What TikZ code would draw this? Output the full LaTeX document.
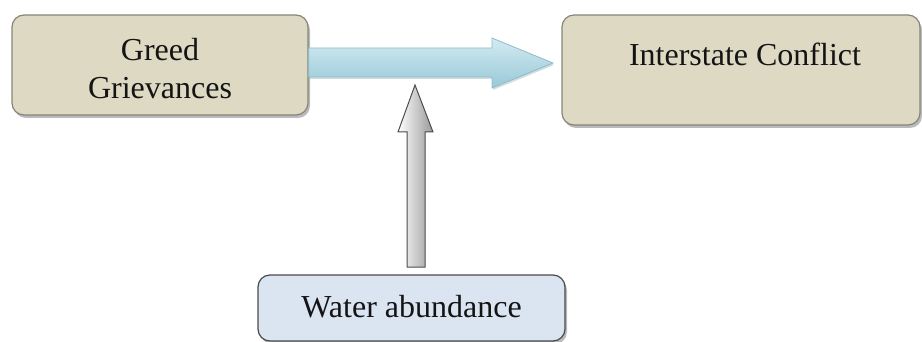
\documentclass[tikz,border=0pt]{standalone}
\usepackage{fontspec}
\setmainfont[Ligatures=NoCommon]{Liberation Serif}
\usetikzlibrary{shadows,calc}
\definecolor{tanfill}{HTML}{DDD9C3}
\definecolor{tanedge}{HTML}{85857A}
\definecolor{bluefill}{HTML}{DBE5F1}
\definecolor{blueedge}{HTML}{4A4A4A}
\definecolor{arrowtop}{HTML}{D3EAF2}
\definecolor{arrowmid}{HTML}{F0F8FB}
\definecolor{arrowbot}{HTML}{97C9D7}
\definecolor{arrowedge}{HTML}{8DBCCA}
\begin{document}
\begin{tikzpicture}[x=1pt,y=-1pt,
  boxbase/.style={line width=1.2pt, rounded corners=12pt, inner sep=0pt,
    drop shadow={shadow xshift=2pt, shadow yshift=-3pt, opacity=0.45, fill=black!60}},
  tanbox/.style={boxbase, draw=tanedge, fill=tanfill},
  bluebox/.style={boxbase, draw=blueedge, fill=bluefill},
  lbl/.style={font=\fontsize{32}{38}\selectfont, align=center, text=black!92, inner sep=0pt},
  harrow/.style={draw=arrowedge, line width=0.8pt, top color=arrowtop, middle color=arrowmid, bottom color=arrowbot,
    drop shadow={shadow xshift=1pt, shadow yshift=-2pt, opacity=0.3, fill=arrowbot!70!black}},
  varrow/.style={draw=black!70, line width=1pt, left color=white, right color=black!40}]
\useasboundingbox (0,0) rectangle (922,342);
% boxes
\node[tanbox, minimum width=296pt, minimum height=100pt] (gg) at (160,65) {};
\node[tanbox, minimum width=358pt, minimum height=110pt] (ic) at (741,70) {};
\node[bluebox, minimum width=307pt, minimum height=66pt] (wa) at (411.5,308) {};
% texts
\node[lbl] (ggt) at (gg.center |- 0,69) {Greed\\Grievances};
\node[lbl] (ict) at (745,54) {Interstate Conflict};
\node[lbl] (wat) at (wa.center |- 0,307) {Water abundance};
% horizontal block arrow
\coordinate (htip) at (553,63);
\path[harrow] (gg.east |- 0,48) -- (492,48) -- (492,38) -- (htip) -- (492,88) -- (492,77) -- (gg.east |- 0,77) -- cycle;
% vertical block arrow
\coordinate (vtip) at (415,85);
\path[varrow] (407,267) -- (407,132) -- (398,132) -- (vtip) -- (433,132) -- (425,132) -- (425,267) -- cycle;
\end{tikzpicture}
\end{document}
